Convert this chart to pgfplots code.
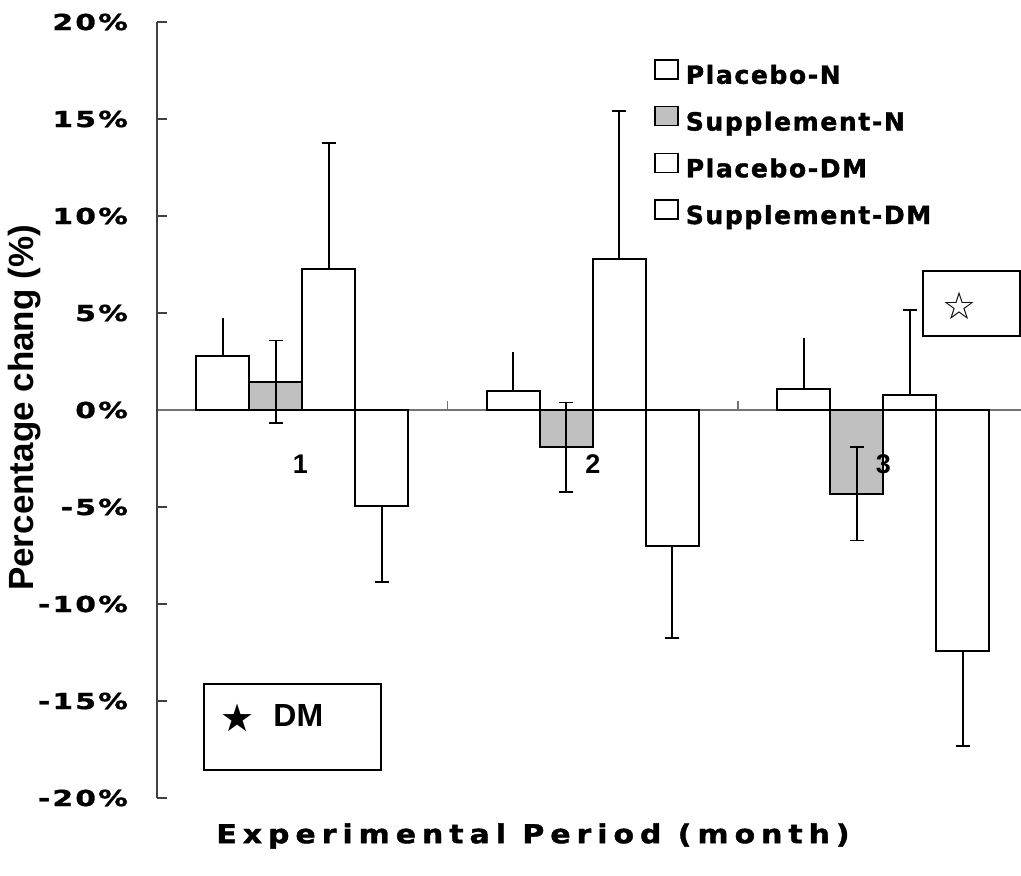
\documentclass[border=0pt]{standalone}
\usepackage{fontspec}
\setmainfont{Liberation Sans}
\newfontfamily\tickfont{DejaVu Sans Bold}[FakeStretch=1.35,LetterSpace=10,FakeBold=1.5]
\newfontfamily\xlabfont{DejaVu Sans Bold}[FakeStretch=1.15,LetterSpace=23,FakeBold=1.5]
\newfontfamily\legfont{DejaVu Sans Bold}[LetterSpace=6.5,FakeBold=1.5]
\newfontfamily\symfont{DejaVu Sans}
\usepackage{pgfplots}
\pgfplotsset{compat=1.18}
\definecolor{barfillgray}{RGB}{192,192,192}
\begin{document}
\begin{tikzpicture}
\begin{axis}[
  at={(78.5pt,38.5pt)}, anchor=south west,
  scale only axis, width=432pt, height=388pt,
  xmin=0.5, xmax=3.474, ymin=-20, ymax=20,
  axis y line=left, axis x line=middle,
  axis line style={-},
  y axis line style={draw=black!75, line width=0.75pt},
  x axis line style={draw=black!55, line width=0.75pt},
  ytick={-20,-15,...,20},
  yticklabels={-20\%,-15\%,-10\%,-5\%,0\%,5\%,10\%,15\%,20\%},
  ytick align=inside,
  major tick length=5pt,
  y tick style={draw=black!75, line width=0.75pt},
  y tick label style={font=\tickfont\fontsize{11}{13}\selectfont, xshift=-11pt},
  xtick={1,2,3}, xticklabels={},
  x tick style={draw=none},
  ybar=0pt, bar width=26.5pt,
  legend style={draw=none, fill=none, at={(0.5682,0.958)}, anchor=north west,
    font=\legfont\fontsize{12.5}{14}\selectfont,
    nodes={inner sep=0pt, text height=9pt, text depth=3pt},
    row sep=8pt, column sep=3.5pt},
  legend cell align=left,
  legend image code/.code={\draw[#1, line width=0.75pt] (0pt,-0.5pt) rectangle (11.5pt,9pt);},
  error bars/error bar style={line width=0.8pt, black},
  error bars/error mark options={rotate=90, mark size=3.5pt, line width=0.8pt, black},
]
% Placebo-N
\addplot[draw=black, fill=white, line width=0.9pt,
  error bars/.cd, y dir=plus, y explicit, error mark=none]
  coordinates {(1,2.77) +- (0,1.99) (2,0.98) +- (0,1.99) (3,1.08) +- (0,2.62)};
% Supplement-N
\addplot[draw=black, fill=barfillgray, line width=0.9pt,
  error bars/.cd, y dir=both, y explicit]
  coordinates {(1,1.46) +- (0,2.12) (2,-1.92) +- (0,2.30) (3,-4.32) +- (0,2.40)};
% Placebo-DM
\addplot[draw=black, fill=white, line width=0.9pt,
  error bars/.cd, y dir=plus, y explicit]
  coordinates {(1,7.25) +- (0,6.51) (2,7.78) +- (0,7.62) (3,0.77) +- (0,4.38)};
% Supplement-DM
\addplot[draw=black, fill=white, line width=0.9pt,
  error bars/.cd, y dir=minus, y explicit]
  coordinates {(1,-4.95) +- (0,3.90) (2,-7.01) +- (0,4.73) (3,-12.41) +- (0,4.91)};
\legend{Placebo-N,Supplement-N,Placebo-DM,Supplement-DM}
\draw[black!55, line width=0.75pt] (axis cs:1.5,0) -- ([yshift=4.5pt]axis cs:1.5,0);
\draw[black!55, line width=0.75pt] (axis cs:2.5,0) -- ([yshift=4.5pt]axis cs:2.5,0);
\node[font=\bfseries\fontsize{13.5}{15}\selectfont] at ([xshift=-1pt,yshift=-27pt]axis cs:1,0) {1};
\node[font=\bfseries\fontsize{13.5}{15}\selectfont] at ([yshift=-27pt]axis cs:2,0) {2};
\node[font=\bfseries\fontsize{13.5}{15}\selectfont] at ([yshift=-27pt]axis cs:3,0) {3};
\end{axis}
% annotation boxes
\draw[black, line width=0.75pt, fill=white] (461.5pt,269.5pt) rectangle (510pt,302pt);
\node[font=\symfont\fontsize{19}{21}\selectfont] at (480pt,284.5pt) {☆};
\draw[black, line width=0.75pt, fill=white] (102pt,52.5pt) rectangle (190.5pt,95.5pt);
\node[font=\symfont\fontsize{19}{21}\selectfont] at (119pt,78.5pt) {★};
\node[font=\bfseries\fontsize{16}{18}\selectfont, anchor=west, inner sep=0pt] at (136.5pt,80pt) {DM};
% axis titles
\node[rotate=90, font=\bfseries\fontsize{17.5}{20}\selectfont] at (12.5pt,233.5pt) {Percentage chang (\%)};
\node[font=\xlabfont\fontsize{13}{15}\selectfont] at (266.5pt,19.5pt) {Experimental Period (month)};
\pgfresetboundingbox
\useasboundingbox (0,0) rectangle (510.5pt,437.5pt);
\end{tikzpicture}
\end{document}
